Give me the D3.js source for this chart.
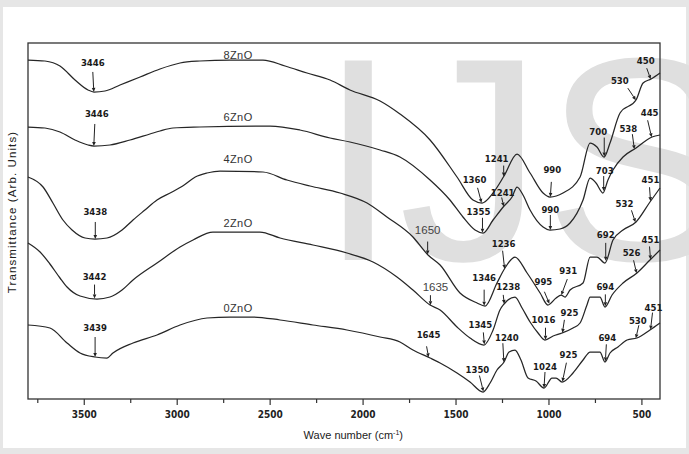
<!DOCTYPE html>
<html>
<head>
<meta charset="utf-8">
<script src="https://cdn.jsdelivr.net/npm/d3@7"></script>
<style>
  body { margin: 0; background: #fff; }
</style>
</head>
<body>
<div id="chart"></div>
<script>
// spectra: [wave number, transmittance (arb.)]
var spec8 = [[3800,84.75],[3709,84.5],[3628,83.25],[3547,79.75],[3477,77.25],[3445,76.75],[3386,77],[3305,78.5],[3197,80.5],[3090,82.5],[2982,84],[2875,84.5],[2713,84.75],[2536,84.75],[2417,83.25],[2299,81.5],[2175,79.75],[2068,77.25],[1906,74.5],[1799,71.25],[1637,64.75],[1492,55.5],[1406,49.75],[1357,49],[1298,51.5],[1239,55.75],[1169,61.25],[1099,56.5],[1029,51.5],[992,50.5],[922,51.5],[830,55.5],[776,64],[739,63],[701,60.5],[669,64],[615,71.5],[529,74.75],[491,79],[448,80],[400,81.5]];
var spec6 = [[3800,68],[3709,67.75],[3628,66.75],[3547,64.75],[3477,63.5],[3445,63.25],[3359,63.5],[3251,64.75],[3144,66.25],[3090,67],[3020,67.75],[2875,68],[2498,68.25],[2337,67.25],[2175,65.25],[2068,64.25],[1906,62.25],[1799,60.5],[1637,54.75],[1530,49.75],[1460,45.5],[1395,42.25],[1352,41.5],[1298,44.75],[1239,48.25],[1196,50.5],[1169,53],[1137,51],[1099,47.25],[1029,43],[992,42.25],[938,42.5],[884,44],[814,49.75],[776,55.25],[744,54],[707,51.5],[680,54.75],[653,57.25],[599,60.5],[529,62.75],[443,65.5],[400,66]];
var spec4 = [[3800,55.5],[3719,53],[3666,49],[3612,44.75],[3563,42.25],[3493,40.25],[3440,40],[3375,40.25],[3294,42.25],[3235,44.75],[3171,47.25],[3106,49.75],[3025,51.75],[2960,53.5],[2900,55.5],[2837,56.5],[2767,57],[2536,56.75],[2407,54.75],[2283,53.25],[2121,51.5],[1976,49],[1869,45.5],[1729,40.5],[1648,36],[1583,33.5],[1476,26.5],[1384,24],[1341,23.25],[1277,29],[1234,32.75],[1180,35.5],[1115,31.5],[1045,26.5],[1003,23.5],[959,25.25],[932,26],[911,25.5],[884,27.25],[814,29],[776,35.5],[739,35.5],[696,34],[653,39.75],[599,42.25],[529,44.25],[454,49.25],[400,52.75]];
var spec2 = [[3800,39],[3735,36.75],[3682,33.75],[3628,30.25],[3590,28],[3520,25.75],[3429,25],[3359,25.5],[3294,27.25],[3235,29.75],[3106,34],[2982,38],[2912,39.75],[2805,41.75],[2552,41.75],[2444,40.25],[2267,38.5],[2084,36.5],[1944,34.25],[1815,30.5],[1729,27.25],[1637,23.5],[1583,22.25],[1492,18],[1422,15.25],[1347,13.5],[1298,17.25],[1261,22.25],[1239,23.75],[1180,25.5],[1142,22.75],[1099,19.25],[1056,16.5],[1019,14.75],[975,15.75],[927,16.5],[868,17.75],[830,19],[793,23.5],[776,25.5],[723,25.5],[696,23],[658,26],[599,29],[524,31.5],[454,34.75],[400,37.25]];
var spec0 = [[3800,18.5],[3682,17.75],[3590,14],[3520,11.5],[3440,10.5],[3375,10.25],[3343,11.5],[3235,14],[3106,16],[2982,18.5],[2837,20.25],[2713,20.5],[2590,20.5],[2444,19.75],[2267,18.5],[2084,17.25],[1906,15.5],[1799,14.25],[1729,12.25],[1637,10.25],[1583,9],[1492,6.5],[1422,4.25],[1352,1.75],[1314,4],[1277,7.25],[1239,9.25],[1212,11.75],[1180,12.25],[1148,9.75],[1110,5.25],[1067,4.5],[1024,2.75],[981,5.25],[959,5.25],[927,4.25],[868,6.5],[814,9.75],[776,11.75],[723,11.75],[696,9.25],[669,11.5],[626,13],[577,14.75],[524,15.25],[454,17.25],[400,19]];

var seriesNames = ["8ZnO", "6ZnO", "4ZnO", "2ZnO", "0ZnO"];

// marked band positions (cm-1)
var peaks8 = [3446, 1360, 1241, 990, 700, 530, 450];
var peaks6 = [3446, 1355, 1241, 990, 703, 538, 445];
var peaks4 = [3438, 1650, 1346, 1236, 995, 931, 692, 532, 451];
var peaks2 = [3442, 1635, 1345, 1238, 1016, 925, 694, 526, 451];
var peaks0 = [3439, 1645, 1350, 1240, 1024, 925, 694, 530, 451];

var xTicks = [3500, 3000, 2500, 2000, 1500, 1000, 500];
var xMinorTicks = [3750, 3250, 2750, 2250, 1750, 1250, 750];

// label placement: [text dx, text dy, arrow start dx, arrow start dy] from the arrow tip
var off8 = [[-1,-29,-1,-20],[-7,-23,-4,-15],[-7,-18,0,-11],[2,-27,1,-15],[-6,-25,0,-19],[-16,-20,-8,-12],[-5,-19,-4,-11]];
var off6 = [[3,-32,1,-22],[-4,-21,0,-15],[-1,-14,-2,-9],[0,-20,0,-15],[1,-20,0,-15],[-6,-21,-2,-15],[-2,-25,-4,-17]];
var off4 = [[0,-27,0,-17],[0,-25,0,-13],[0,-28,0,-16],[-1,-25,-2,-18],[-6,-22,-5,-12],[7,-25,6,-16],[0,-26,0,-18],[-11,-19,-4,-12],[0,-22,-1,-14]];
var off2 = [[0,-22,0,-14],[5,-18,0,-10],[-4,-20,-1,-12],[4,-17,-1,-9],[-2,-20,0,-12],[7,-20,2,-13],[0,-20,0,-12],[-5,-21,-3,-13],[0,-20,-1,-13]];
var off0 = [[0,-29,0,-20],[0,-23,-2,-11],[-6,-22,-4,-16],[3,-25,-1,-19],[1,-21,1,-16],[6,-27,4,-19],[2,-24,1,-17],[2,-18,3,-13],[3,-22,2,-17]];
var nameOffsets = [-1, -5, -8, -5, -5];

var specs = [spec8, spec6, spec4, spec2, spec0];
var peaks = [peaks8, peaks6, peaks4, peaks2, peaks0];
var offs = [off8, off6, off4, off2, off0];
var thinLabels = { "1650": true, "1635": true };

var W = 689, H = 454;
var margin = { top: 43, right: 29, bottom: 55, left: 28 },
    width = W - margin.left - margin.right,
    height = H - margin.top - margin.bottom;

var labelFont = "'DejaVu Sans Condensed', 'Liberation Sans Narrow', sans-serif";

var root = d3.select("#chart")
    .append("svg")
    .attr("width", W)
    .attr("height", H);

// scanned page frame
root.append("rect").attr("width", W).attr("height", H).attr("fill", "#e6e6e6");
root.append("rect").attr("x", 3).attr("y", 7).attr("width", W - 6).attr("height", H - 13).attr("fill", "#fff");

// watermark
root.append("text")
    .attr("x", 318)
    .attr("y", 260)
    .attr("font-family", "'Liberation Sans', Arial, sans-serif")
    .attr("font-size", 290)
    .attr("fill", "#dfdfdf")
    .text("IJS");

var svg = root.append("g")
    .attr("transform", "translate(" + margin.left + "," + margin.top + ")");

var x = d3.scaleLinear()
    .domain([3800, 400])
    .range([0, width]);

var y = d3.scaleLinear()
    .domain([0, 89])
    .range([height, 0]);

function interp(spec, v) {
    for (var i = 0; i < spec.length - 1; i++) {
        if (v <= spec[i][0] && v >= spec[i + 1][0]) {
            var f = (spec[i][0] - v) / (spec[i][0] - spec[i + 1][0]);
            return spec[i][1] + f * (spec[i + 1][1] - spec[i][1]);
        }
    }
    return spec[spec.length - 1][1];
}

// axes
var xAxis = svg.append("g")
    .attr("transform", "translate(0," + height + ")")
    .call(d3.axisBottom(x).tickValues(xTicks).tickSize(6).tickPadding(6).tickFormat(d3.format("d")));

svg.append("g")
    .attr("transform", "translate(0," + height + ")")
    .call(d3.axisBottom(x).tickValues(xMinorTicks).tickSize(4).tickFormat(""))
    .select(".domain").remove();

xAxis.select(".domain").remove();
svg.selectAll(".tick line").attr("stroke", "#333").attr("stroke-width", 1.2);
xAxis.selectAll(".tick text")
    .attr("font-family", labelFont)
    .attr("font-weight", "bold")
    .attr("font-size", 10)
    .attr("fill", "#222");

svg.append("rect")
    .attr("width", width)
    .attr("height", height)
    .attr("fill", "none")
    .attr("stroke", "#333")
    .attr("stroke-width", 1.3);

// spectra
var line = d3.line()
    .x(function (d) { return x(d[0]); })
    .y(function (d) { return y(d[1]); })
    .curve(d3.curveMonotoneX);

svg.selectAll("path.spec")
    .data(specs)
    .enter()
    .append("path")
    .attr("class", "spec")
    .attr("d", line)
    .attr("fill", "none")
    .attr("stroke", "#262626")
    .attr("stroke-width", 1.25);

// series names
seriesNames.forEach(function (name, i) {
    svg.append("text")
        .attr("x", x(2670))
        .attr("y", y(interp(specs[i], 2670)) + nameOffsets[i])
        .attr("text-anchor", "middle")
        .attr("font-family", "'Liberation Sans', Arial, sans-serif")
        .attr("font-size", 11)
        .attr("letter-spacing", 0.4)
        .attr("fill", "#333")
        .text(name);
});

// band labels with arrows
peaks.forEach(function (list, i) {
    list.forEach(function (v, j) {
        var o = offs[i][j];
        var tx = x(v), ty = y(interp(specs[i], v));
        var sx = tx + o[2], sy = ty + o[3];
        var ang = Math.atan2(ty - sy, tx - sx);
        var hl = 4, hw = 1.8;
        var bx = tx - hl * Math.cos(ang), by = ty - hl * Math.sin(ang);

        svg.append("line")
            .attr("x1", sx).attr("y1", sy)
            .attr("x2", bx).attr("y2", by)
            .attr("stroke", "#222")
            .attr("stroke-width", 1);

        svg.append("path")
            .attr("d", "M" + tx + "," + ty +
                "L" + (bx + hw * Math.sin(ang)) + "," + (by - hw * Math.cos(ang)) +
                "L" + (bx - hw * Math.sin(ang)) + "," + (by + hw * Math.cos(ang)) + "Z")
            .attr("fill", "#222");

        var thin = thinLabels[String(v)];
        svg.append("text")
            .attr("x", tx + o[0])
            .attr("y", ty + o[1])
            .attr("dy", "0.36em")
            .attr("text-anchor", "middle")
            .attr("font-family", thin ? "'Liberation Sans', Arial, sans-serif" : labelFont)
            .attr("font-weight", thin ? "normal" : "bold")
            .attr("font-size", thin ? 11.5 : 9.5)
            .attr("fill", thin ? "#444" : "#1a1a1a")
            .text(v);
    });
});

// axis titles
var xt = svg.append("text")
    .attr("x", x(2050))
    .attr("y", height + margin.top - 3)
    .attr("text-anchor", "middle")
    .attr("font-family", "'Liberation Sans', Arial, sans-serif")
    .attr("font-size", 11)
    .attr("fill", "#222")
    .text("Wave number (cm");
xt.append("tspan").attr("font-size", 7).attr("dy", -4).text("-1");
xt.append("tspan").attr("dy", 4).text(")");

svg.append("text")
    .attr("text-anchor", "middle")
    .attr("transform", "rotate(-90)")
    .attr("x", -(212 - margin.top))
    .attr("y", -margin.left + 16)
    .attr("font-family", "'Liberation Sans', Arial, sans-serif")
    .attr("font-size", 11.5)
    .attr("letter-spacing", 1.1)
    .attr("fill", "#222")
    .text("Transmittance (Arb. Units)");
</script>
</body>
</html>
